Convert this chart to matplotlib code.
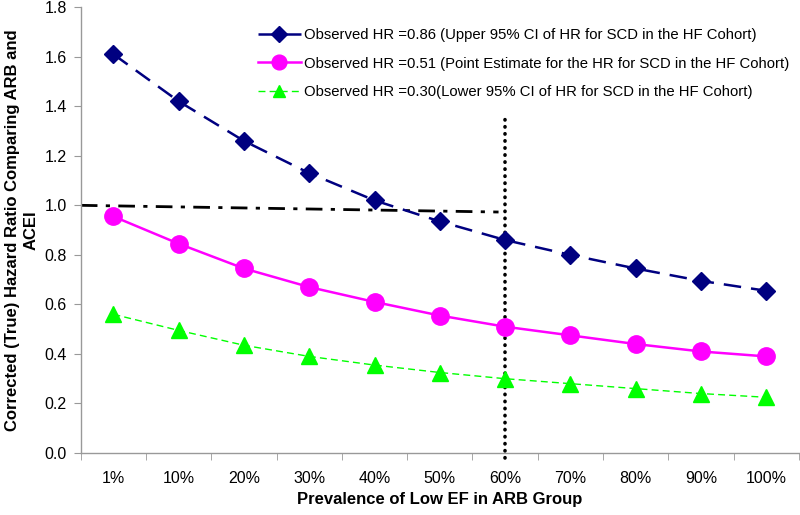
import matplotlib.pyplot as plt
import numpy as np

plt.rcParams['font.family'] = ['Liberation Sans', 'DejaVu Sans']

#%% data
prevalence = ['1%', '10%', '20%', '30%', '40%', '50%', '60%', '70%', '80%', '90%', '100%']
hr_upper = [1.61, 1.42, 1.26, 1.13, 1.02, 0.935, 0.86, 0.80, 0.745, 0.695, 0.655]
hr_point = [0.955, 0.845, 0.745, 0.67, 0.61, 0.555, 0.51, 0.475, 0.44, 0.41, 0.39]
hr_lower = [0.56, 0.495, 0.435, 0.39, 0.355, 0.325, 0.30, 0.28, 0.26, 0.24, 0.225]

ref_x = [-0.5, 5.9]      # dash-dot reference line ends
ref_y = [1.0, 0.973]
cut_x = 6                # dotted vertical line at 60%
cut_y = [-0.02, 1.36]

lab_upper = 'Observed HR =0.86 (Upper 95% CI of HR for SCD in the HF Cohort)'
lab_point = 'Observed HR =0.51 (Point Estimate for the HR for SCD in the HF Cohort)'
lab_lower = 'Observed HR =0.30(Lower 95% CI of HR for SCD in the HF Cohort)'

#%% plot
fig = plt.figure(figsize=(8, 5.15), dpi=100)
ax = fig.add_axes([0.101, 0.1204, 0.8975, 0.8656])
x = np.arange(len(prevalence))

ax.plot(ref_x, ref_y, color='black', lw=2, ls=(0, (6, 3, 1.5, 3)), zorder=2)
ax.plot([cut_x, cut_x], cut_y, color='black', lw=2.6, ls=(0, (0.1, 1.85)),
        dash_capstyle='round', clip_on=False, zorder=2)

ax.plot(x, hr_upper, color='#000080', lw=1.8, ls=(0, (7, 4)), marker='D', ms=9.5,
        label=lab_upper, zorder=3)
ax.plot(x, hr_point, color='#FF00FF', lw=1.8, ls='-', marker='o', ms=12.5,
        label=lab_point, zorder=3)
ax.plot(x, hr_lower, color='#00FF00', lw=1, ls=(0, (5, 3)), marker='^', ms=11,
        label=lab_lower, zorder=3)

ax.set_xlim(-0.5, len(prevalence) - 0.5)
ax.set_ylim(0, 1.8)
ax.set_yticks(np.arange(0, 1.81, 0.2))
ax.set_yticklabels([f'{v:.1f}' for v in np.arange(0, 1.81, 0.2)])
ax.set_xticks(x)
ax.set_xticklabels(prevalence)
ax.set_xticks(np.arange(-0.5, len(prevalence), 1), minor=True)
ax.tick_params(axis='x', which='major', length=0, pad=13, labelsize=11.5)
ax.tick_params(axis='x', which='minor', length=5, color='#999999', direction='out')
ax.tick_params(axis='y', length=5, color='#999999', direction='out', labelsize=11.5, pad=5)

for s in ['top', 'right']:
    ax.spines[s].set_visible(False)
for s in ['left', 'bottom']:
    ax.spines[s].set_color('#999999')
    ax.spines[s].set_linewidth(1)

ax.set_xlabel('Prevalence of Low EF in ARB Group', fontsize=12, fontweight='bold', labelpad=4)
ax.set_ylabel('Corrected (True) Hazard Ratio Comparing ARB and\nACEI', fontsize=12,
              fontweight='bold', labelpad=4, linespacing=1.35)

ax.legend(loc='upper right', bbox_to_anchor=(0.999, 0.974), frameon=False, fontsize=10.7,
          handlelength=2.9, handletextpad=0.2, labelspacing=1.0, borderaxespad=0.2,
          markerscale=0.85)

plt.savefig('out.png', dpi=100)
